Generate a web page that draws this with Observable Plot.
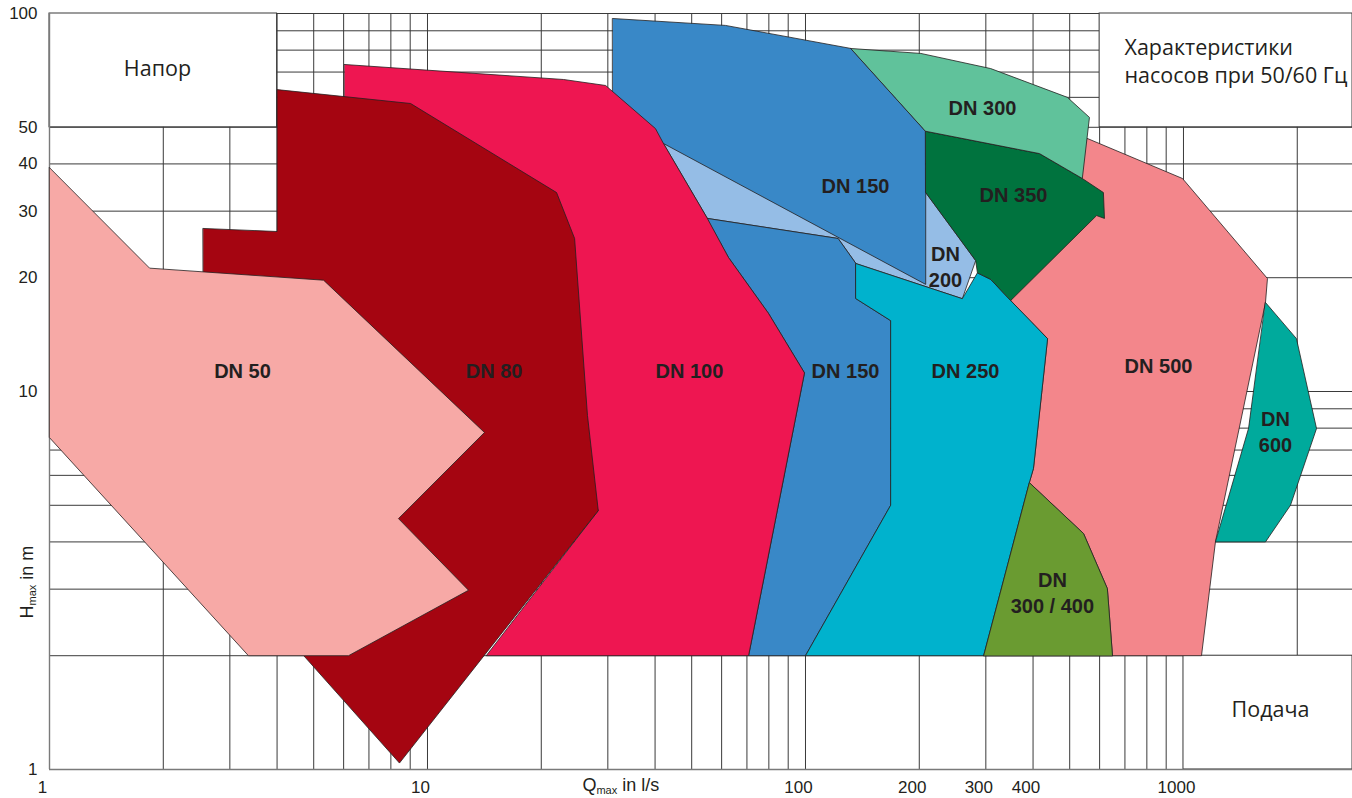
<!DOCTYPE html>
<html>
<head>
<meta charset="utf-8">
<script src="https://cdn.jsdelivr.net/npm/d3@7"></script>
<script src="https://cdn.jsdelivr.net/npm/@observablehq/plot@0.6"></script>
<style>
  html, body { margin: 0; padding: 0; background: #fff; }
  #chart svg { display: block; }
</style>
</head>
<body>
<div id="chart"></div>
<script>
// ---- Grid / tick values (log scale) ----
const xGrid = [1,2,3,4,5,6,7,8,9,10,20,30,40,50,60,70,80,90,100,200,300,400,500,600,700,800,900,1000,2000];
const yGrid = [1,2,3,4,5,6,7,8,9,10,20,30,40,50,60,70,80,90,100];
const xTicks = [1, 10, 100, 200, 300, 400, 1000];
const yTicks = [1, 10, 20, 30, 40, 50, 100];

// ---- Pump range polygons: [Q in l/s, H in m] ----
const dn50 = [[1,39.1],[1.84,21.2],[5.31,19.7],[14.15,7.79],[8.38,4.61],[12.84,2.98],[6.18,2],[3.36,2],[1,7.55]];
const dn80 = [[2.55,27.0],[4.0,26.5],[4.0,62.9],[9.02,57.8],[21.95,33.6],[24.5,25.4],[26.5,8.64],[28.3,4.84],[8.43,1.04],[4.34,2.19],[3.40,6.98],[2.55,18.5]];
const dn100 = [[6.03,73.3],[22.9,66.9],[29.6,64.5],[40.1,49.6],[42.1,45.3],[55.0,28.7],[62.6,22.6],[79.8,16.1],[99.4,11.2],[70.7,2],[14.3,2],[28.3,4.84],[15.6,17.4],[6.03,52.1]];
const dn150Upper = [[30.9,97.0],[61.4,93.0],[132,80.8],[208,48.8],[208,19.2],[42.1,45.3],[30.9,58.9]];
const dn200 = [[42.1,45.3],[55.0,28.7],[122,25.4],[136,21.8],[260,17.6],[282,22.2],[208,33.6]];
const dn150Lower = [[55.0,28.7],[122,25.4],[136,21.8],[136,17.6],[168,15.4],[168,5.0],[100,2],[70.7,2],[99.4,11.2],[79.8,16.1],[62.6,22.6]];
const dn250 = [[136,21.8],[260,17.6],[285,20.6],[309,19.8],[349,17.4],[437,13.8],[401,6.26],[391,5.74],[296,2],[100,2],[168,5.0],[168,15.4],[136,17.6]];
const dn350 = [[208,48.8],[416,42.6],[540,36.6],[614,33.6],[618,28.7],[589,29.2],[349,17.4],[309,19.8],[285,20.6],[282,22.2],[208,33.6]];
const dn300 = [[132,80.8],[202,78.4],[309,71.5],[493,60.0],[564,53.1],[540,36.6],[416,42.6],[208,48.8]];
const dn500 = [[557,46.7],[994,36.6],[1668,19.9],[1648,17.2],[1215,4.0],[1116,2],[649,2],[629,3.01],[544,4.21],[391,5.74],[401,6.26],[437,13.8],[349,17.4],[502,34.0]];
const dn600 = [[1648,17.2],[1990,13.8],[2249,7.98],[1919,5.0],[1648,4.0],[1215,4.0],[1486,7.98]];
const dn300_400 = [[296,2],[391,5.74],[544,4.21],[629,3.01],[649,2]];

// ---- Labels ----
const polyLabels = [
  {text: "DN 50", q: 3.24, h: 11.4},
  {text: "DN 80", q: 15.0, h: 11.4},
  {text: "DN 100", q: 49.3, h: 11.4},
  {text: "DN 150", q: 127.6, h: 11.4},
  {text: "DN 250", q: 265, h: 11.4},
  {text: "DN 500", q: 859, h: 11.8},
  {text: "DN 150", q: 135.6, h: 35.3},
  {text: "DN 300", q: 294, h: 56.8},
  {text: "DN 350", q: 355, h: 33.4},
  {text: "DN\n200", q: 234.6, h: 21.5},
  {text: "DN\n600", q: 1752, h: 7.88},
  {text: "DN\n300 / 400", q: 450, h: 2.96}
];
const boxes = [
  {q1: 1, q2: 4, h1: 50, h2: 100},
  {q1: 600, q2: 2800, h1: 50, h2: 100},
  {q1: 1000, q2: 2800, h1: 1, h2: 2}
];
const boxNotes = [
  {text: "Напор", q: 1.93, h: 71.1, anchor: "middle"},
  {text: "Характеристики\nнасосов при 50/60 Гц", q: 698, h: 75.1, anchor: "start"},
  {text: "Подача", q: 1699, h: 1.44, anchor: "middle"}
];

const polys = [
  [dn500, "#F3868B"],
  [dn200, "#95BDE6"],
  [dn150Upper, "#3988C7"],
  [dn150Lower, "#3988C7"],
  [dn100, "#EE1651"],
  [dn80, "#A50511"],
  [dn50, "#F7A9A6"],
  [dn250, "#00B2CD"],
  [dn300_400, "#6A9B31"],
  [dn350, "#00733E"],
  [dn300, "#60C29B"],
  [dn600, "#00AA9C"]
];

const ink = "#231F20";
const narrow = "'Liberation Sans Narrow', 'Arial Narrow', 'Liberation Sans', Arial, sans-serif";
const opensans = "'Open Sans', 'Noto Sans', sans-serif";

const chart = Plot.plot({
  width: 1352,
  height: 798,
  marginLeft: 49,
  marginRight: 0,
  marginTop: 13,
  marginBottom: 29,
  style: {background: "white", fontFamily: narrow, fontSize: "18px", color: ink},
  x: {type: "log", domain: [1, 2800], axis: null},
  y: {type: "log", domain: [1, 100], axis: null},
  marks: [
    Plot.ruleX(xGrid, {stroke: "#3a3a3a", strokeWidth: 1}),
    Plot.ruleY(yGrid, {stroke: "#3a3a3a", strokeWidth: 1}),
    Plot.rect(boxes, {x1: "q1", x2: "q2", y1: "h1", y2: "h2", fill: "white", stroke: "#3a3a3a", strokeWidth: 1}),
    Plot.ruleY([1], {stroke: "#7a7a7a", strokeWidth: 1.6}),
    Plot.ruleX([1], {stroke: "#7a7a7a", strokeWidth: 1.4}),
    ...polys.map(([pts, color]) => Plot.line(pts, {
      x: d => d[0], y: d => d[1], curve: "linear-closed",
      fill: color, stroke: ink, strokeWidth: 0.8, strokeLinejoin: "miter"
    })),
    Plot.text(polyLabels, {
      x: "q", y: "h", text: "text", fill: ink, fontWeight: "bold",
      fontSize: 20, fontFamily: "'Liberation Sans', Arial, sans-serif", lineHeight: 1.3
    }),
    Plot.text(boxNotes.filter(d => d.anchor === "middle"), {
      x: "q", y: "h", text: "text", fill: ink, fontSize: 21.5,
      fontFamily: opensans, textAnchor: "middle"
    }),
    Plot.text(boxNotes.filter(d => d.anchor === "start"), {
      x: "q", y: "h", text: "text", fill: ink, fontSize: 21.5, lineHeight: 1.3,
      fontFamily: opensans, textAnchor: "start"
    }),
    // x tick labels
    Plot.text(xTicks, {x: d => d, y: 1, dy: 18, dx: -7, text: d => String(d), fill: ink, fontSize: 17}),
    // y tick labels
    Plot.text(yTicks, {x: 1, y: d => d, dx: -12, text: d => String(d), textAnchor: "end", fill: ink, fontSize: 17}),
    Plot.text(["Qmax in l/s"], {x: 25.7, y: 1, dy: 16, text: d => d, textAnchor: "start", fill: ink, fontSize: 18}),
    Plot.text(["Hmax in m"], {x: 1, y: 2.51, dx: -22, text: d => d, textAnchor: "start", rotate: -90, fill: ink, fontSize: 18})
  ]
});

// subscripts for the axis titles
function subscriptify(svg, full, main, sub, rest) {
  d3.select(svg).selectAll("text")
    .filter(function() { return this.textContent === full; })
    .each(function() {
      const t = d3.select(this);
      t.text(null);
      t.append("tspan").text(main);
      t.append("tspan").attr("font-size", 11).attr("dy", 3).text(sub);
      t.append("tspan").attr("dy", -3).text(rest);
    });
}
subscriptify(chart, "Qmax in l/s", "Q", "max", " in l/s");
subscriptify(chart, "Hmax in m", "H", "max", " in m");

document.getElementById("chart").append(chart);
</script>
</body>
</html>
